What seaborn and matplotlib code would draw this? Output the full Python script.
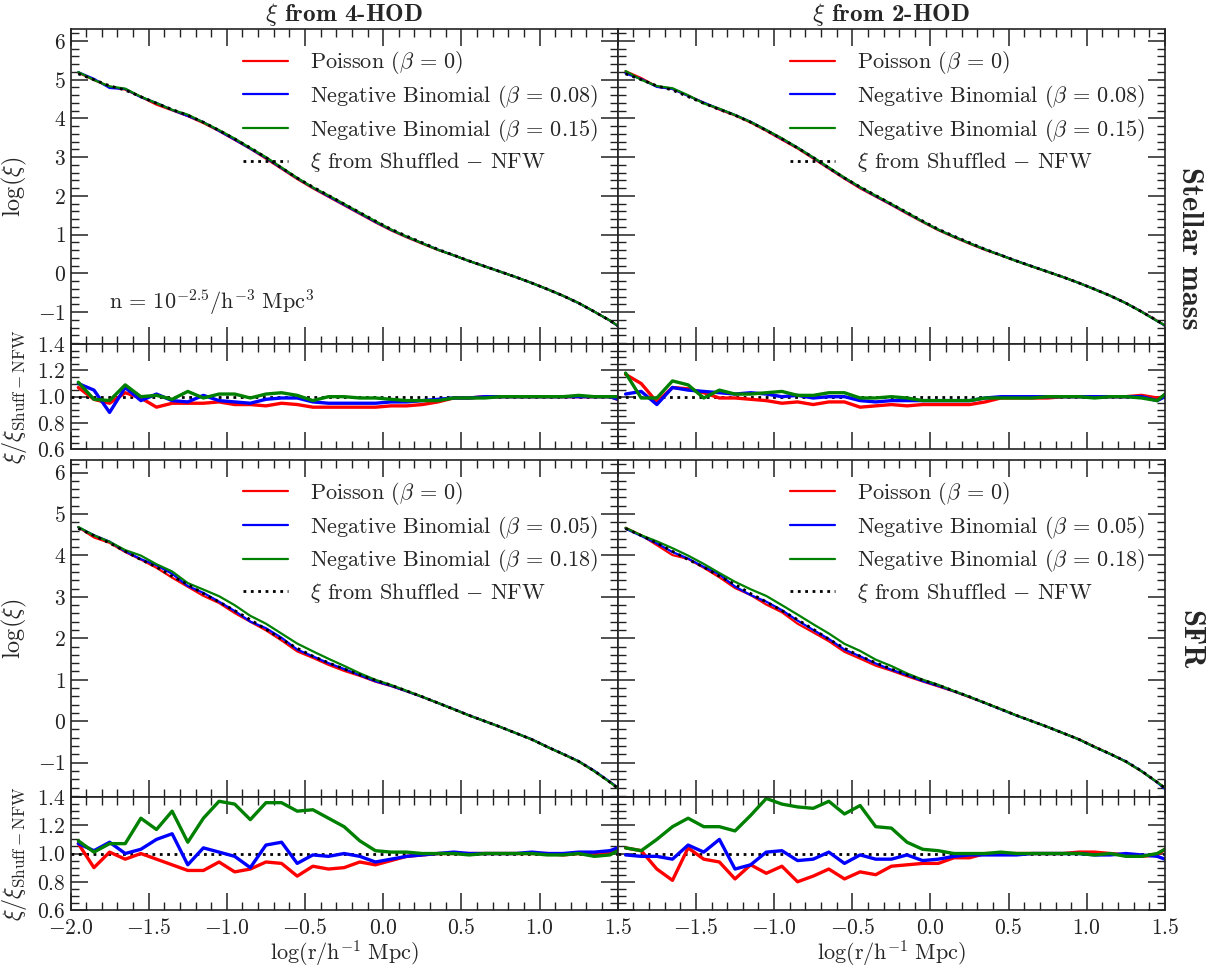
import matplotlib
matplotlib.use("Agg")
import matplotlib.pyplot as plt
import numpy as np
import seaborn as sns
from matplotlib.gridspec import GridSpec
from matplotlib.ticker import FuncFormatter, MultipleLocator

# --------------------------------------------------------------------------- #
# Dados
# --------------------------------------------------------------------------- #
LOG_R = [-1.95, -1.85, -1.75, -1.65, -1.55, -1.45, -1.35, -1.25, -1.15, -1.05,
         -0.95, -0.85, -0.75, -0.65, -0.55, -0.45, -0.35, -0.25, -0.15, -0.05,
         0.05, 0.15, 0.25, 0.35, 0.45, 0.55, 0.65, 0.75, 0.85, 0.95,
         1.05, 1.15, 1.25, 1.35, 1.45, 1.50]

# log(xi) do catálogo Shuffled-NFW
XI_SHUF_SM = [5.15, 5.00, 4.84, 4.73, 4.56, 4.39, 4.23, 4.08, 3.90, 3.69,
              3.47, 3.24, 2.99, 2.72, 2.46, 2.23, 2.01, 1.79, 1.57, 1.35,
              1.14, 0.96, 0.79, 0.62, 0.47, 0.32, 0.18, 0.04, -0.10, -0.25,
              -0.41, -0.58, -0.77, -0.99, -1.22, -1.35]
XI_SHUF_SFR = [4.65, 4.48, 4.30, 4.10, 3.90, 3.72, 3.50, 3.30, 3.08, 2.88,
               2.67, 2.45, 2.22, 1.98, 1.76, 1.57, 1.41, 1.26, 1.12, 0.99,
               0.87, 0.73, 0.59, 0.44, 0.29, 0.14, 0.00, -0.14, -0.29, -0.44,
               -0.62, -0.79, -0.97, -1.20, -1.47, -1.62]

# razão xi / xi_Shuff-NFW  (massa estelar, 4-HOD)
SM4_POISSON = [1.07, 0.98, 0.95, 1.03, 0.99, 0.92, 0.95, 0.95, 0.95, 0.96,
               0.94, 0.94, 0.93, 0.95, 0.94, 0.92, 0.92, 0.92, 0.92, 0.92,
               0.93, 0.93, 0.94, 0.96, 0.99, 0.99, 1.00, 1.00, 1.00, 1.00,
               1.00, 1.00, 1.00, 1.00, 1.00, 0.98]
SM4_NB_LOW = [1.10, 1.05, 0.88, 1.07, 0.97, 1.02, 0.97, 0.96, 1.01, 0.97,
              0.96, 0.95, 0.98, 0.99, 0.99, 0.96, 0.95, 0.95, 0.95, 0.95,
              0.96, 0.96, 0.97, 0.98, 0.99, 0.99, 1.00, 1.00, 1.00, 1.00,
              1.00, 1.00, 1.00, 1.00, 1.00, 0.98]
SM4_NB_HIGH = [1.11, 0.98, 0.97, 1.09, 1.00, 1.01, 0.98, 1.04, 0.99, 1.02,
               1.02, 0.99, 1.02, 1.03, 1.01, 0.97, 1.00, 1.00, 0.99, 0.99,
               0.98, 0.97, 0.97, 0.97, 0.99, 0.99, 0.99, 1.00, 1.00, 1.00,
               1.00, 1.00, 1.01, 1.00, 1.00, 1.00]

# massa estelar, 2-HOD
SM2_POISSON = [1.17, 1.10, 0.96, 1.07, 1.06, 1.03, 0.99, 0.99, 0.98, 0.97,
               0.95, 0.96, 0.94, 0.96, 0.96, 0.92, 0.93, 0.94, 0.93, 0.94,
               0.94, 0.94, 0.94, 0.96, 0.99, 0.99, 0.99, 0.99, 1.00, 1.00,
               1.00, 1.00, 1.00, 1.01, 0.99, 1.00]
SM2_NB_LOW = [1.02, 1.04, 0.94, 1.07, 1.05, 1.04, 1.03, 1.02, 1.03, 1.02,
              1.00, 1.01, 0.99, 1.00, 1.00, 0.97, 0.96, 0.97, 0.97, 0.97,
              0.97, 0.97, 0.97, 0.99, 1.00, 1.00, 1.00, 1.00, 1.00, 1.00,
              1.00, 1.00, 1.00, 1.00, 0.97, 1.00]
SM2_NB_HIGH = [1.18, 0.99, 0.99, 1.12, 1.09, 0.99, 1.05, 1.02, 1.02, 1.03,
               1.04, 1.01, 1.01, 1.03, 1.03, 0.99, 0.99, 1.00, 0.99, 0.97,
               0.97, 0.97, 0.97, 0.99, 0.99, 0.99, 0.99, 1.00, 1.00, 1.00,
               0.99, 1.00, 1.00, 0.99, 0.97, 1.02]

# SFR, 4-HOD
SFR4_POISSON = [1.07, 0.90, 1.01, 0.96, 1.00, 0.96, 0.92, 0.88, 0.88, 0.94,
                0.87, 0.89, 0.94, 0.93, 0.84, 0.91, 0.89, 0.90, 0.94, 0.92,
                0.95, 0.98, 0.99, 1.00, 1.00, 1.00, 1.00, 1.00, 1.00, 1.00,
                1.00, 0.99, 1.00, 0.99, 1.01, 1.04]
SFR4_NB_LOW = [1.07, 1.02, 1.08, 1.00, 1.03, 1.10, 1.14, 0.92, 1.04, 1.01,
               0.98, 0.90, 1.06, 1.08, 0.93, 0.99, 0.98, 1.00, 0.98, 0.94,
               0.96, 0.98, 0.99, 1.00, 1.01, 1.00, 1.00, 1.00, 1.00, 1.01,
               1.00, 1.00, 1.01, 1.01, 1.02, 1.04]
SFR4_NB_HIGH = [1.09, 1.01, 1.07, 1.07, 1.25, 1.17, 1.30, 1.08, 1.25, 1.37,
                1.35, 1.24, 1.36, 1.36, 1.30, 1.31, 1.25, 1.19, 1.09, 1.02,
                1.01, 1.01, 1.00, 1.00, 1.00, 0.99, 1.00, 1.00, 1.00, 1.00,
                0.99, 0.99, 1.00, 0.98, 0.99, 1.02]

# SFR, 2-HOD
SFR2_POISSON = [1.04, 1.02, 0.89, 0.81, 1.04, 0.96, 0.94, 0.82, 0.92, 0.86,
                0.91, 0.80, 0.84, 0.89, 0.82, 0.87, 0.85, 0.91, 0.92, 0.93,
                0.93, 0.97, 0.97, 1.00, 1.00, 1.00, 1.00, 1.00, 1.00, 1.01,
                1.01, 1.00, 0.99, 0.98, 0.99, 1.03]
SFR2_NB_LOW = [0.99, 0.98, 0.98, 0.96, 1.06, 1.01, 1.10, 0.89, 0.92, 1.01,
               1.02, 0.95, 0.96, 1.01, 0.93, 0.99, 0.96, 0.96, 0.99, 0.95,
               0.96, 0.98, 0.99, 0.99, 0.99, 0.99, 1.00, 1.00, 1.00, 1.00,
               0.99, 0.99, 1.00, 0.99, 0.98, 0.96]
SFR2_NB_HIGH = [1.04, 1.02, 1.10, 1.19, 1.25, 1.19, 1.19, 1.16, 1.27, 1.39,
                1.35, 1.33, 1.32, 1.37, 1.28, 1.34, 1.19, 1.18, 1.08, 1.03,
                1.02, 1.00, 1.00, 1.00, 1.01, 1.00, 1.00, 1.00, 1.00, 1.00,
                0.99, 1.00, 0.98, 0.98, 1.00, 1.03]

BETAS_SM = ["0.08", "0.15"]
BETAS_SFR = ["0.05", "0.18"]
COLUMN_TITLES = [r"$\xi$ from 4-HOD", r"$\xi$ from 2-HOD"]
ROW_NAMES = ["Stellar mass", "SFR"]

MODEL_COLORS = ["red", "blue", "green"]


def set_style() -> None:
    sns.set_theme(style="ticks")
    plt.rcParams["font.family"] = "serif"
    plt.rcParams["font.serif"] = ["cmr10"]
    plt.rcParams["mathtext.fontset"] = "cm"
    plt.rcParams["axes.formatter.use_mathtext"] = True
    plt.rcParams["axes.linewidth"] = 1.2
    plt.rcParams["axes.edgecolor"] = "#222222"


def style_axis(ax, ratio: bool) -> None:
    ax.set_xlim(-2.0, 1.5)
    ax.xaxis.set_major_locator(MultipleLocator(0.5))
    ax.xaxis.set_minor_locator(MultipleLocator(0.1))
    if ratio:
        ax.set_ylim(0.6, 1.4)
        ax.yaxis.set_major_locator(MultipleLocator(0.2))
        ax.yaxis.set_minor_locator(MultipleLocator(0.05))
    else:
        ax.set_ylim(-1.83, 6.3)
        ax.yaxis.set_major_locator(MultipleLocator(1))
        ax.yaxis.set_minor_locator(MultipleLocator(0.2))
    ax.tick_params(which="both", direction="in", top=True, right=True,
                   labelsize=15.5, colors="#222222")
    ax.tick_params(which="major", length=12, width=1.1)
    ax.tick_params(which="minor", length=6, width=1.0)
    ax.tick_params(axis="x", pad=6)


def draw_main(ax, shuf, ratios, betas) -> None:
    labels = [r"Poisson ($\beta\,=\,0$)",
              rf"Negative Binomial ($\beta\,=\,{betas[0]}$)",
              rf"Negative Binomial ($\beta\,=\,{betas[1]}$)"]
    for vals, color, label in zip(ratios, MODEL_COLORS, labels):
        logxi = np.asarray(shuf) + np.log10(vals)
        sns.lineplot(x=LOG_R, y=logxi, color=color, linewidth=1.6,
                     label=label, ax=ax)
    sns.lineplot(x=LOG_R, y=shuf, color="black", linewidth=2.0, linestyle=":",
                 label=r"$\xi$ from $\rm Shuffled\,-\,NFW$", ax=ax)
    ax.legend(loc="upper right", frameon=False, fontsize=16, handlelength=2.0,
              handletextpad=1.0, labelspacing=0.3, borderaxespad=0.5)


def draw_ratio(ax, ratios) -> None:
    ax.axhline(1.0, color="black", linestyle=":", linewidth=2.0, zorder=1)
    for vals, color in zip(ratios, MODEL_COLORS):
        sns.lineplot(x=LOG_R, y=vals, color=color, linewidth=2.4, ax=ax)


def x_formatter(hide_first: bool):
    def fmt(v, pos):
        if hide_first and v < -1.99:
            return ""
        return f"${v:.1f}$"
    return FuncFormatter(fmt)


def main() -> None:
    set_style()
    fig = plt.figure(figsize=(12.16, 9.69), dpi=100)
    gs = GridSpec(5, 2, figure=fig, left=70.5 / 1216, right=1165 / 1216,
                  top=1 - 29.3 / 969, bottom=1 - 910 / 969,
                  height_ratios=[315, 105, 11, 337, 113], hspace=0, wspace=0)

    rows = [
        (0, XI_SHUF_SM, BETAS_SM,
         [[SM4_POISSON, SM4_NB_LOW, SM4_NB_HIGH],
          [SM2_POISSON, SM2_NB_LOW, SM2_NB_HIGH]]),
        (3, XI_SHUF_SFR, BETAS_SFR,
         [[SFR4_POISSON, SFR4_NB_LOW, SFR4_NB_HIGH],
          [SFR2_POISSON, SFR2_NB_LOW, SFR2_NB_HIGH]]),
    ]

    for r, (gi, shuf, betas, ratio_sets) in enumerate(rows):
        for c in range(2):
            ax_m = fig.add_subplot(gs[gi, c])
            ax_r = fig.add_subplot(gs[gi + 1, c])
            draw_main(ax_m, shuf, ratio_sets[c], betas)
            draw_ratio(ax_r, ratio_sets[c])
            style_axis(ax_m, ratio=False)
            style_axis(ax_r, ratio=True)
            ax_m.tick_params(labelbottom=False)
            if r == 0:
                ax_r.tick_params(labelbottom=False)
                ax_m.set_title(COLUMN_TITLES[c], fontsize=18,
                               fontfamily="cmb10", pad=6)
            else:
                ax_r.xaxis.set_major_formatter(x_formatter(c == 1))
                ax_r.set_xlabel(r"$\rm \log(r/h^{-1}\ Mpc)$", fontsize=16,
                                labelpad=0)
            if c == 0:
                ax_m.set_ylabel(r"$\log(\xi)$", fontsize=17.5)
                ax_r.set_ylabel(r"$\xi/\xi_{\rm Shuff-NFW}$", fontsize=17.5)
                ax_m.yaxis.set_label_coords(-0.075, 0.5)
                ax_r.yaxis.set_label_coords(-0.075, 0.5)
            else:
                ax_m.tick_params(labelleft=False)
                ax_r.tick_params(labelleft=False)
                ax_m.set_ylabel("")
                ax_r.set_ylabel("")
            if r == 0 and c == 0:
                ax_m.text(0.07, 0.135, r"$\rm n\,=\,10^{-2.5}/h^{-3}\ Mpc^3$",
                          transform=ax_m.transAxes, fontsize=16, va="center")

    fig.text(1190 / 1216, 1 - 248 / 969, ROW_NAMES[0], rotation=-90,
             fontsize=22, fontfamily="cmb10", ha="center", va="center")
    fig.text(1190 / 1216, 1 - 640 / 969, ROW_NAMES[1], rotation=-90,
             fontsize=22, fontfamily="cmb10", ha="center", va="center")

    fig.savefig("out.png", dpi=100, facecolor="white")


if __name__ == "__main__":
    main()
